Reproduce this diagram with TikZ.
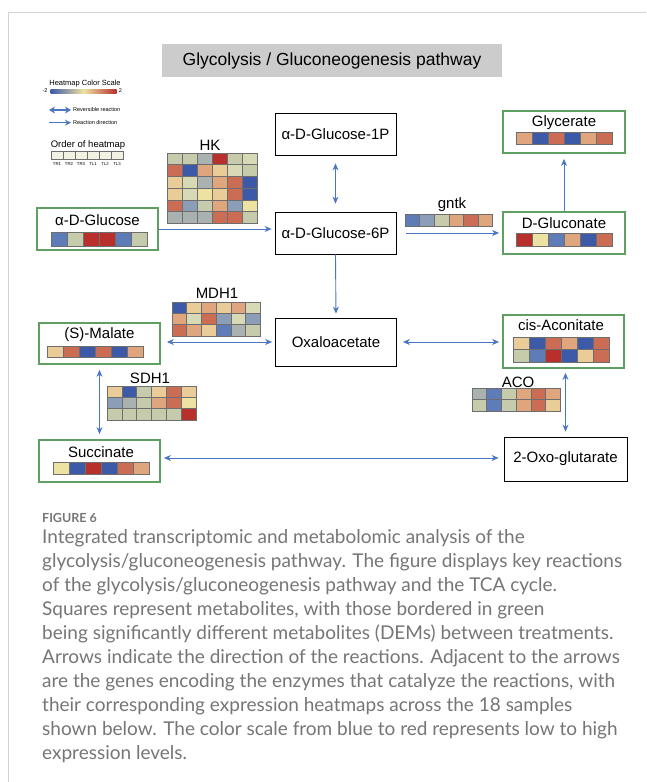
\documentclass[tikz,border=0pt]{standalone}
\usepackage{fontspec}
\setmainfont{Liberation Sans}
\newfontfamily\capfont{Lato}
\usetikzlibrary{arrows.meta}
\definecolor{hB}{HTML}{3C5AA8}
\definecolor{hb}{HTML}{5E7CB8}
\definecolor{hbg}{HTML}{8C9DB8}
\definecolor{hg}{HTML}{A9B2B1}
\definecolor{hc}{HTML}{C6CBAC}
\definecolor{hcl}{HTML}{D8DAB5}
\definecolor{hY}{HTML}{EDE2A2}
\definecolor{hy}{HTML}{E9CC98}
\definecolor{ho}{HTML}{DFA67E}
\definecolor{hr}{HTML}{CB6D55}
\definecolor{hR}{HTML}{B8302C}
\definecolor{cellline}{HTML}{6E6E6E}
\definecolor{demgreen}{HTML}{5FA062}
\definecolor{arrblue}{HTML}{4A76C6}
\definecolor{titlegray}{HTML}{CCCCCC}
\definecolor{framegray}{HTML}{D2D2D2}
\definecolor{captext}{HTML}{767676}
\definecolor{ordfill}{HTML}{F3F2E2}
\newcommand{\heatrow}[5]{\foreach \cc [count=\ii from 0] in {#5} {\filldraw[fill=\cc, draw=cellline, line width=0.45pt] ({#1+\ii*#3},{#2}) rectangle ++(#3,#4);}}
\begin{document}
\begin{tikzpicture}[x=1pt,y=-1pt,
  plainbox/.style={draw=black, line width=0.8pt, minimum width=121pt, minimum height=42pt, inner sep=0pt, font=\fontsize{15}{15}\selectfont},
  dembox/.style={draw=demgreen, line width=1.8pt, minimum width=121pt, minimum height=42pt, inner sep=0pt},
  mlabel/.style={inner sep=0pt, font=\fontsize{15}{15}\selectfont},
  glabel/.style={inner sep=0pt, font=\fontsize{15}{15}\selectfont},
  arr/.style={draw=arrblue, line width=0.9pt, -{Stealth[length=7pt,width=6pt]}},
  rev/.style={draw=arrblue, line width=0.9pt, {Stealth[length=7pt,width=6pt]}-{Stealth[length=7pt,width=6pt]}},
  legtext/.style={inner sep=0pt, anchor=west, font=\fontsize{5.5}{6}\selectfont}
]
\useasboundingbox (0,0) rectangle (646,782);
\fill[white] (0,0) rectangle (646,782);
% frame
\draw[framegray, line width=1pt] (8,782) -- (8,12) -- (646,12);
% title
\node[fill=titlegray, minimum width=340pt, minimum height=33pt, inner sep=0pt, font=\fontsize{17.5}{18}\selectfont] (title) at (332,60.5) {Glycolysis / Gluconeogenesis pathway};
% legend
\node[inner sep=0pt, font=\fontsize{7.5}{8}\selectfont] (legtitle) at (85,84) {Heatmap Color Scale};
\shade[left color=hB, right color=hR, middle color=hY] (50.5,89) rectangle (116.5,93);
\node[inner sep=0pt, font=\fontsize{5.5}{6}\selectfont] (lmin) at (45,91) {-2};
\node[inner sep=0pt, font=\fontsize{5.5}{6}\selectfont] (lmax) at (120.5,91) {2};
\coordinate (ra1) at (49,110); \coordinate (ra2) at (71,110);
\draw[draw=arrblue, line width=1.6pt, {Stealth[length=6pt,width=7pt]}-{Stealth[length=6pt,width=7pt]}] (ra1) -- (ra2);
\node[legtext] (revtxt) at (73,110) {Reversible reaction};
\coordinate (da1) at (49,122.7); \coordinate (da2) at (71,122.7);
\draw[draw=arrblue, line width=1pt, -{Stealth[length=6pt,width=6pt]}] (da1) -- (da2);
\node[legtext] (dirtxt) at (73,122.7) {Reaction direction};
\node[inner sep=0pt, font=\fontsize{9.5}{10}\selectfont] (ordtxt) at (88,145.5) {Order of heatmap};
\foreach \lab [count=\k from 0] in {TR1,TR2,TR3,TL1,TL2,TL3} {
  \filldraw[fill=ordfill, draw=cellline, line width=0.45pt] ({51+\k*12},151) rectangle ++(12,8.5);
  \node[inner sep=0pt, font=\fontsize{4.3}{5}\selectfont] at ({57+\k*12},164) {\lab};
}
% plain metabolite boxes
\node[plainbox] (p1) at (335.5,134) {α-D-Glucose-1P};
\node[plainbox] (p6) at (335.5,233) {α-D-Glucose-6P};
\node[plainbox, minimum height=48pt] (oxa) at (336,342) {Oxaloacetate};
\node[plainbox, minimum width=123pt, minimum height=44pt] (oxog) at (565.5,459) {2-Oxo-glutarate};
% DEM boxes
\node[dembox] (glc) at (97.5,229) {};
\node[mlabel] (glctxt) at (97.5,220) {α-D-Glucose};
\heatrow{51}{232}{16}{14}{hb,hc,hR,hR,hb,hc}
\node[dembox, minimum width=122pt] (glyc) at (564,132) {};
\node[mlabel] (glyctxt) at (564,123) {Glycerate};
\heatrow{516}{132}{16}{12}{ho,hB,hr,hB,ho,hr}
\node[dembox, minimum width=122pt] (glcn) at (564,233) {};
\node[mlabel] (glcntxt) at (564,223.5) {D-Gluconate};
\heatrow{516}{233}{16}{13}{hR,hY,hb,ho,hB,hr}
\node[dembox, minimum height=41pt] (mal) at (99.5,343.5) {};
\node[mlabel] (maltxt) at (99.5,335) {(S)-Malate};
\heatrow{47}{346}{16}{11}{hy,hr,hB,hr,hB,ho}
\node[dembox] (suc) at (99.5,461) {};
\node[mlabel] (suctxt) at (101,452) {Succinate};
\heatrow{53}{462}{16}{12}{hY,hB,hR,hB,hr,ho}
\node[dembox, minimum height=53pt] (cis) at (563.5,341.5) {};
\node[mlabel] (cistxt) at (561,325) {cis-Aconitate};
\heatrow{513}{337}{16}{12.5}{hy,hB,hr,ho,hB,hr}
\heatrow{513}{349.5}{16}{12.5}{hc,hb,hR,hB,hy,hr}
% gene heatmaps
\node[glabel] (hk) at (210,145) {HK};
\heatrow{167}{153}{15}{11.7}{hc,hc,hg,hR,hc,hcl}
\heatrow{167}{164.7}{15}{11.7}{hr,hB,ho,hy,hcl,hc}
\heatrow{167}{176.4}{15}{11.7}{hy,hcl,hg,ho,hr,hB}
\heatrow{167}{188.1}{15}{11.7}{hy,hcl,hY,hy,hr,hB}
\heatrow{167}{199.8}{15}{11.7}{hr,hbg,hc,ho,hbg,hY}
\heatrow{167}{211.5}{15}{11.7}{hg,hg,hg,hr,hr,hc}
\node[glabel] (gntk) at (452,205) {gntk};
\heatrow{405}{214}{14.6}{12}{hb,hbg,hc,ho,hr,ho}
\node[glabel] (mdh) at (217,293) {MDH1};
\heatrow{172}{302}{14.7}{11.3}{hB,hy,ho,hy,ho,hcl}
\heatrow{172}{313.3}{14.7}{11.3}{ho,hcl,hr,hbg,hcl,hbg}
\heatrow{172}{324.6}{14.7}{11.3}{hr,ho,hy,hb,hg,hc}
\node[glabel] (sdh) at (150,378) {SDH1};
\heatrow{107}{386}{14.8}{11.3}{hy,hB,hc,hy,hr,hy}
\heatrow{107}{397.3}{14.8}{11.3}{hbg,hg,hc,ho,hr,hY}
\heatrow{107}{408.6}{14.8}{11.3}{hc,hc,hc,hc,hc,hR}
\node[glabel] (aco) at (518,382) {ACO};
\heatrow{472}{388}{14.7}{11.5}{hg,hb,hc,ho,hr,ho}
\heatrow{472}{399.5}{14.7}{11.5}{hc,hb,hc,ho,hr,hy}
% connectors
\draw[arr, shorten >=3pt] (glc.east) -- (glc.east -| p6.west);
\draw[rev, shorten <=8pt, shorten >=8pt] (p1.south) -- (p6.north);
\draw[arr, shorten >=4pt] (p6.south) -- (oxa.north);
\draw[arr, shorten <=10pt, shorten >=3pt] (p6.east) -- (glcn.west);
\draw[arr, shorten >=5pt] (glcn.north) -- (glyc.south);
\draw[rev, shorten <=3pt, shorten >=6pt] (oxa.west) -- (oxa.west -| mal.east);
\draw[rev, shorten <=6pt, shorten >=3pt] (oxa.east) -- (oxa.east -| cis.west);
\draw[rev, shorten <=5pt, shorten >=5pt] (mal.south) -- (suc.north);
\draw[rev, shorten <=3pt, shorten >=5pt] (suc.east |- 0,458) -- (oxog.west |- 0,458);
\draw[rev, shorten <=5pt, shorten >=4pt] (oxog.north) -- (oxog.north |- cis.south);
% caption
\node[inner sep=0pt, anchor=west, text=captext, font=\capfont\bfseries\fontsize{12.5}{13}\selectfont] (fig) at (42,518) {FIGURE 6};
\node[inner sep=0pt, anchor=north west, align=left, text=captext, font=\capfont\fontsize{19}{24}\selectfont] (cap) at (42,529) {Integrated transcriptomic and metabolomic analysis of the\\
glycolysis/gluconeogenesis pathway. The figure displays key reactions\\
of the glycolysis/gluconeogenesis pathway and the TCA cycle.\\
Squares represent metabolites, with those bordered in green\\
being significantly different metabolites (DEMs) between treatments.\\
Arrows indicate the direction of the reactions. Adjacent to the arrows\\
are the genes encoding the enzymes that catalyze the reactions, with\\
their corresponding expression heatmaps across the 18 samples\\
shown below. The color scale from blue to red represents low to high\\
expression levels.};
\end{tikzpicture}
\end{document}
